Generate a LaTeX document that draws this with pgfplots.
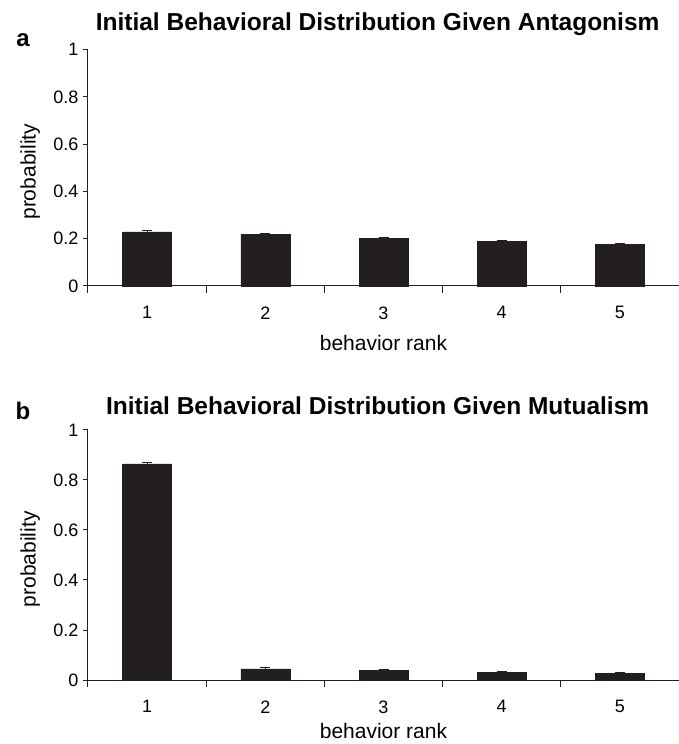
\documentclass[border=0pt]{standalone}
\usepackage{pgfplots}
\pgfplotsset{compat=1.18}
\usepackage{fontspec}
\setmainfont{Liberation Sans}
\definecolor{barc}{HTML}{231F20}
\definecolor{axc}{HTML}{231F20}

\pgfplotstableread{
x y err
1 0.229 0.005
2 0.219 0.004
3 0.202 0.003
4 0.188 0.004
5 0.175 0.005
}\antag

\pgfplotstableread{
x y err
1 0.864 0.007
2 0.045 0.004
3 0.039 0.002
4 0.032 0.004
5 0.027 0.004
}\mutual

\begin{document}
\begin{tikzpicture}[x=1pt,y=1pt]
\useasboundingbox (0,0) rectangle (678,744);
\pgfplotsset{
  panel/.style={
    scale only axis, width=591pt,
    axis x line*=bottom, axis y line*=left,
    axis line style={axc, line width=1pt},
    xmin=0.5, xmax=5.5, ymin=0, ymax=1,
    xtick={1,2,3,4,5},
    xticklabels={1,2,3,4,5},
    major x tick style={draw=none},
    minor xtick={0.5,1.5,2.5,3.5,4.5,5.5},
    minor x tick style={axc, line width=1pt},
    ytick={0,0.2,0.4,0.6,0.8,1},
    yticklabels={0,0.2,0.4,0.6,0.8,1},
    major y tick style={axc, line width=1pt},
    tick align=outside,
    major tick length=5pt, minor tick length=7pt,
    ticklabel style={font=\fontsize{18}{21}\selectfont, text=black},
    xticklabel style={yshift=-12pt},
    yticklabel style={xshift=-1pt},
    label style={font=\fontsize{21}{24}\selectfont},
    title style={font=\fontsize{24.5}{28}\selectfont\bfseries, anchor=center},
    clip=false,
  },
  barplot/.style={
    ybar, bar width=49pt, fill=barc, draw=barc,
    error bars/.cd, y dir=plus, y explicit,
    error bar style={axc, line width=1pt},
    error mark options={rotate=90, mark size=5pt, line width=1pt, axc},
  }
}
\begin{axis}[panel, at={(88pt,458pt)}, anchor=south west, height=236.4pt,
  title={Initial Behavioral Distribution Given Antagonism},
  title style={at={(axis description cs:0.49,1.08)}},
  xlabel={behavior rank},
  xlabel style={at={(axis description cs:0.5,-0.24)}, anchor=center},
  ylabel={probability},
  ylabel style={at={(axis description cs:-0.098,0.483)}, anchor=center},
]
\addplot[barplot] table[x=x, y=y, y error=err] {\antag};
\node[font=\fontsize{24}{28}\selectfont\bfseries, anchor=center] at (axis description cs:-0.11,1.042) {a};
\end{axis}

\begin{axis}[panel, at={(88pt,64pt)}, anchor=south west, height=250pt,
  title={Initial Behavioral Distribution Given Mutualism},
  title style={at={(axis description cs:0.49,1.072)}},
  xlabel={behavior rank},
  xlabel style={at={(axis description cs:0.5,-0.205)}, anchor=center},
  ylabel={probability},
  ylabel style={at={(axis description cs:-0.098,0.483)}, anchor=center},
]
\addplot[barplot] table[x=x, y=y, y error=err] {\mutual};
\node[font=\fontsize{24}{28}\selectfont\bfseries, anchor=center] at (axis description cs:-0.11,1.076) {b};
\end{axis}
\end{tikzpicture}
\end{document}
